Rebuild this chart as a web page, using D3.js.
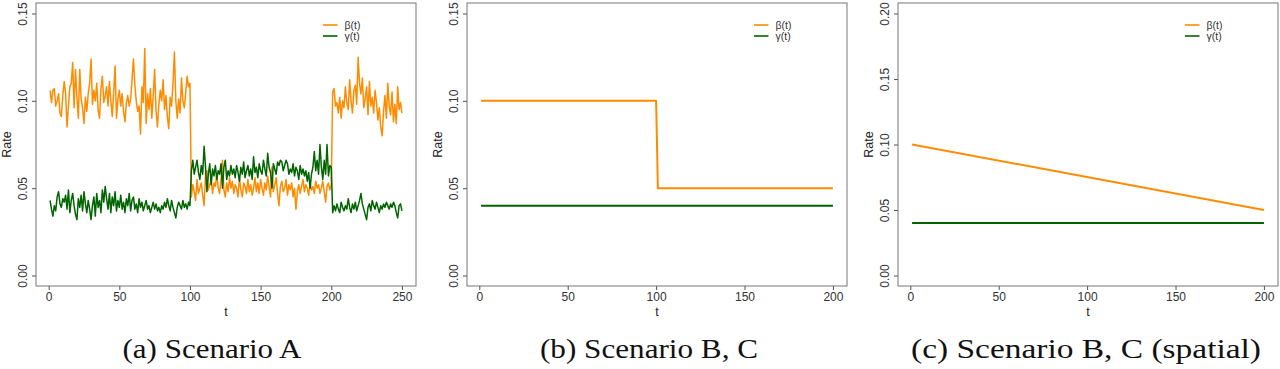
<!DOCTYPE html>
<html>
<head>
<meta charset="utf-8">
<script src="https://cdn.jsdelivr.net/npm/d3@7"></script>
<style>
    body { margin: 0; background: #fff; }
    svg { display: block; }
    .axis text { font-family: "Liberation Sans", Arial, sans-serif; font-size: 12px; fill: #333; }
    .axis line { stroke: #555; }
    .label { font-family: "Liberation Sans", Arial, sans-serif; font-size: 12.5px; fill: #222; }
    .legend text { font-family: "Liberation Sans", Arial, sans-serif; font-size: 10.5px; fill: #333; }
    .caption { font-family: "Liberation Serif", "DejaVu Serif", serif; font-size: 28px; fill: #111; }
</style>
</head>
<body>
<div id="chart"></div>
<script>

// ---- DATA ----
// scenario A : piecewise regimes with noise, t = 1..250
let betaA = [
    .106,.099,.106,.107,.097,.100,.104,.093,.091,.103,
    .111,.104,.085,.097,.108,.110,.122,.096,.118,.102,
    .090,.118,.101,.096,.087,.102,.094,.104,.110,.124,
    .098,.106,.100,.110,.095,.090,.107,.114,.099,.103,
    .108,.097,.111,.100,.091,.105,.120,.090,.101,.106,
    .097,.104,.094,.088,.099,.103,.097,.101,.112,.124,
    .109,.100,.094,.097,.081,.108,.099,.130,.087,.104,
    .095,.107,.090,.103,.118,.094,.085,.098,.106,.100,
    .112,.095,.103,.091,.084,.102,.097,.110,.128,.100,
    .090,.101,.093,.113,.100,.096,.105,.114,.108,.110,
    .045,.052,.048,.043,.055,.047,.050,.053,.046,.040,
    .058,.060,.049,.052,.055,.047,.053,.051,.058,.050,
    .047,.055,.066,.049,.045,.053,.048,.056,.050,.054,
    .047,.052,.050,.045,.056,.049,.045,.053,.051,.047,
    .055,.048,.052,.046,.050,.056,.048,.053,.047,.055,
    .050,.046,.053,.049,.057,.051,.045,.062,.048,.052,
    .056,.047,.040,.051,.054,.048,.050,.055,.046,.052,
    .049,.053,.045,.050,.038,.048,.052,.047,.051,.055,
    .048,.052,.050,.046,.053,.049,.051,.047,.054,.050,
    .052,.047,.050,.054,.048,.042,.051,.053,.049,.052,
    .105,.107,.097,.099,.093,.102,.090,.100,.096,.108,
    .099,.095,.112,.100,.093,.106,.109,.098,.125,.110,
    .104,.113,.096,.101,.108,.092,.111,.097,.102,.093,
    .106,.099,.089,.096,.085,.080,.094,.103,.090,.110,
    .097,.092,.105,.088,.098,.087,.108,.095,.099,.093
];
let gammaA = [
    .043,.038,.034,.040,.037,.045,.048,.041,.039,.044,
    .042,.046,.038,.049,.036,.043,.047,.040,.035,.032,
    .044,.039,.046,.037,.048,.041,.036,.043,.038,.032,
    .040,.045,.034,.047,.039,.043,.036,.049,.042,.051,
    .044,.038,.047,.036,.045,.040,.048,.037,.043,.039,
    .046,.038,.042,.036,.044,.040,.047,.037,.043,.045,
    .038,.041,.036,.044,.039,.042,.037,.040,.043,.038,
    .040,.036,.039,.042,.038,.041,.037,.039,.036,.040,
    .038,.042,.039,.044,.040,.037,.043,.039,.036,.033,
    .039,.042,.040,.038,.043,.039,.041,.038,.042,.040,
    .060,.066,.058,.062,.066,.059,.055,.063,.058,.074,
    .062,.048,.058,.064,.052,.061,.057,.063,.055,.060,
    .058,.064,.050,.062,.066,.055,.060,.057,.063,.058,
    .061,.056,.063,.059,.054,.062,.058,.065,.056,.060,
    .063,.057,.061,.055,.068,.059,.062,.056,.064,.060,
    .058,.066,.061,.057,.070,.062,.059,.050,.064,.061,
    .058,.065,.063,.066,.065,.060,.063,.066,.064,.058,
    .061,.059,.064,.057,.062,.060,.055,.063,.058,.061,
    .057,.060,.054,.059,.050,.058,.062,.071,.060,.066,
    .058,.075,.062,.055,.066,.058,.075,.057,.063,.062,
    .036,.040,.037,.041,.038,.036,.042,.039,.037,.040,
    .038,.044,.039,.036,.041,.038,.042,.037,.040,.043,
    .047,.041,.038,.035,.032,.039,.041,.037,.043,.040,
    .038,.042,.039,.036,.040,.038,.041,.039,.042,.040,
    .038,.041,.039,.042,.040,.036,.033,.040,.041,.037
];
let tA = d3.range(1, betaA.length + 1);

// scenario B, C : step change at t = 100
let tB = [1, 100, 101, 200];
let betaB = [0.10, 0.10, 0.05, 0.05];
let gammaB = [0.04, 0.04, 0.04, 0.04];

// scenario B, C (spatial) : linear decline
let tC = [1, 200];
let betaC = [0.10, 0.05];
let gammaC = [0.04, 0.04];

// ticks
let xTicksA = [0, 50, 100, 150, 200, 250];
let xTicksB = [0, 50, 100, 150, 200];
let yTicksAB = [0, 0.05, 0.10, 0.15];
let yTicksC = [0, 0.05, 0.10, 0.15, 0.20];

let legendLabels = ["β(t)", "γ(t)"];
let captions = ["(a) Scenario A", "(b) Scenario B, C", "(c) Scenario B, C (spatial)"];


/* * * * * * * * * * * * * *
*        RatePanel         *
* * * * * * * * * * * * * */

class RatePanel {

    constructor(svg, t, beta, gamma, opts) {
        this.svg = svg;
        this.t = t;
        this.beta = beta;
        this.gamma = gamma;
        this.opts = opts;
        this.initVis();
    }

    initVis() {
        let vis = this;
        let o = vis.opts;

        vis.box = {left: o.left, right: o.left + 380, top: 3, bottom: 286};
        vis.colors = ["#FF8C00", "#006400"];

        // R style axis ranges (data range + 4%)
        let ext = (a, b) => [a - (b - a) * 0.04, b + (b - a) * 0.04];
        let xe = d3.extent(vis.t);

        vis.x = d3.scaleLinear()
            .domain(ext(xe[0], xe[1]))
            .range([vis.box.left, vis.box.right]);

        vis.y = d3.scaleLinear()
            .domain(ext(0, o.yMax))
            .range([vis.box.bottom, vis.box.top]);

        vis.g = vis.svg.append("g").attr("class", "panel");

        // box
        vis.g.append("rect")
            .attr("x", vis.box.left)
            .attr("y", vis.box.top)
            .attr("width", vis.box.right - vis.box.left)
            .attr("height", vis.box.bottom - vis.box.top)
            .attr("fill", "none")
            .attr("stroke", "#777")
            .attr("stroke-width", 1);

        // axes
        vis.xAxisGroup = vis.g.append("g")
            .attr("class", "x-axis axis")
            .attr("transform", "translate(0," + vis.box.bottom + ")")
            .call(d3.axisBottom(vis.x).tickValues(o.xTicks).tickSize(4).tickPadding(2.5));

        vis.yAxisGroup = vis.g.append("g")
            .attr("class", "y-axis axis")
            .attr("transform", "translate(" + vis.box.left + ",0)")
            .call(d3.axisLeft(vis.y).tickValues(o.yTicks).tickSize(4).tickFormat(d3.format(".2f")));

        vis.g.selectAll(".axis .domain").remove();

        vis.yAxisGroup.selectAll("text")
            .attr("transform", "rotate(-90)")
            .attr("x", 0)
            .attr("y", -13)
            .attr("dy", "0.35em")
            .style("text-anchor", "middle");

        // labels
        vis.g.append("text")
            .attr("class", "label")
            .attr("text-anchor", "middle")
            .attr("transform", `translate(${vis.box.left - 25}, ${(vis.box.top + vis.box.bottom) / 2}) rotate(-90)`)
            .text("Rate");

        vis.g.append("text")
            .attr("class", "label")
            .attr("text-anchor", "middle")
            .attr("x", (vis.box.left + vis.box.right) / 2)
            .attr("y", 316)
            .text("t");

        // legend
        let legend = vis.g.append("g")
            .attr("class", "legend")
            .attr("transform", `translate(${vis.box.right - 93}, 25)`);

        legendLabels.forEach((lab, i) => {
            legend.append("line")
                .attr("x1", 0).attr("x2", 14.5)
                .attr("y1", i * 11).attr("y2", i * 11)
                .attr("stroke", vis.colors[i])
                .attr("stroke-width", 1.6);
            legend.append("text")
                .attr("x", 21.5)
                .attr("y", i * 11)
                .attr("dy", "0.35em")
                .text(lab);
        });

        // caption
        vis.svg.append("text")
            .attr("class", "caption")
            .attr("text-anchor", "middle")
            .attr("x", o.captionX)
            .attr("y", 358)
            .attr("textLength", o.captionW)
            .attr("lengthAdjust", "spacingAndGlyphs")
            .text(o.caption);

        this.updateVis();
    }

    updateVis() {
        let vis = this;

        let line = d3.line()
            .x(d => vis.x(d[0]))
            .y(d => vis.y(d[1]));

        let series = [
            vis.t.map((t, i) => [t, vis.beta[i]]),
            vis.t.map((t, i) => [t, vis.gamma[i]])
        ];

        vis.g.selectAll("path.series")
            .data(series)
            .join("path")
            .attr("class", "series")
            .attr("fill", "none")
            .attr("stroke", (d, i) => vis.colors[i])
            .attr("stroke-width", vis.opts.lineWidth)
            .attr("stroke-linejoin", "round")
            .attr("d", line);
    }
}


let svg = d3.select("#chart").append("svg")
    .attr("width", 1280)
    .attr("height", 369);

new RatePanel(svg, tA, betaA, gammaA, {
    left: 36, yMax: 0.15, xTicks: xTicksA, yTicks: yTicksAB, lineWidth: 1.5,
    caption: captions[0], captionX: 212, captionW: 179
});
new RatePanel(svg, tB, betaB, gammaB, {
    left: 467, yMax: 0.15, xTicks: xTicksB, yTicks: yTicksAB, lineWidth: 2,
    caption: captions[1], captionX: 649, captionW: 218
});
new RatePanel(svg, tC, betaC, gammaC, {
    left: 898, yMax: 0.20, xTicks: xTicksB, yTicks: yTicksC, lineWidth: 2,
    caption: captions[2], captionX: 1086, captionW: 350
});

</script>
</body>
</html>
